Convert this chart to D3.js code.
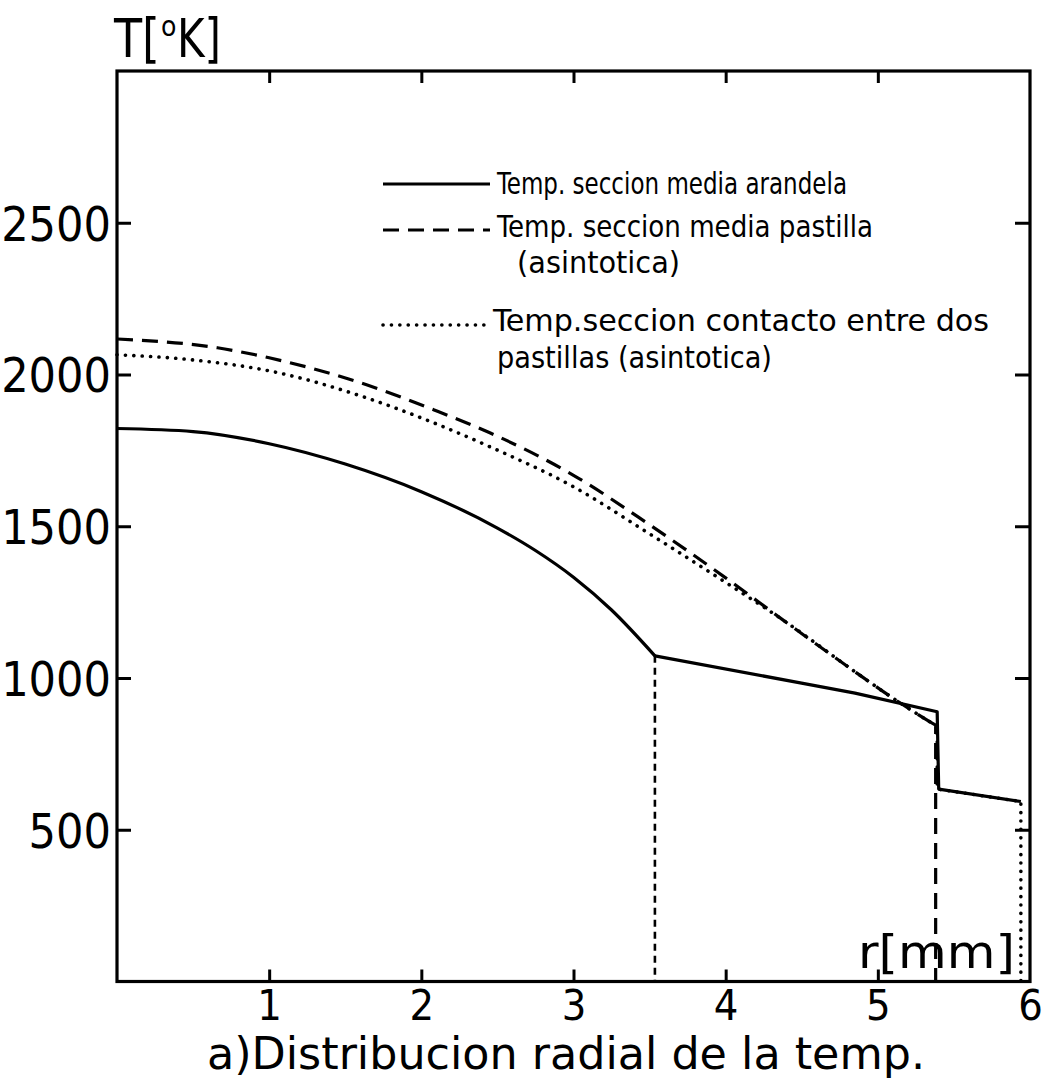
<!DOCTYPE html>
<html>
<head>
<meta charset="utf-8">
<script src="https://cdn.jsdelivr.net/npm/d3@7"></script>
<style>
  html, body { margin: 0; padding: 0; background: #fff; }
  svg { display: block; }
  text { font-family: "Liberation Sans Narrow", "DejaVu Sans Condensed", sans-serif; fill: #000; }
</style>
</head>
<body>
<svg id="chart" width="1051" height="1080"></svg>
<script>
// Radial temperature distribution, r in mm, T in kelvin
const xTicks = [1, 2, 3, 4, 5, 6];
const yTicks = [500, 1000, 1500, 2000, 2500];

// washer mid-section (smooth part, then linear segments and steps)
const arandelaCurve = [[0, 1822], [0.5, 1812], [1, 1772], [1.5, 1705], [2, 1614], [2.5, 1494], [2.75, 1420], [3, 1332], [3.25, 1224], [3.535, 1073]];
const arandelaTail = [[3.535, 1073], [4.49, 984], [4.85, 950], [5.39, 889], [5.40, 634], [5.94, 593]];

// pellet mid-section (asymptotic)
const pastillaCurve = [[0, 2117], [0.66, 2088], [1, 2055], [1.64, 1966], [2.08, 1884], [2.45, 1808], [3, 1668], [3.5, 1505], [4, 1330], [4.38, 1190], [4.86, 1017], [5.08, 940], [5.34, 856]];
const pastillaTail = [[5.34, 856], [5.38, 845], [5.38, 0]];

// contact section between two pellets (asymptotic)
const contactoCurve = [[0, 2065], [0.5, 2048], [1, 2012], [1.64, 1923], [2.08, 1841], [2.45, 1762], [3, 1630], [3.5, 1475], [4, 1315], [4.38, 1190], [4.86, 1017], [5.08, 940], [5.34, 856]];
const contactoTail = [[5.34, 856], [5.39, 845], [5.39, 634], [5.94, 593], [5.94, 0]];

// pellet radius marker
const radioPastilla = [[3.535, 1073], [3.535, 0]];

const svg = d3.select("#chart");
const x = d3.scaleLinear().domain([0, 6]).range([117, 1030]);
const y = d3.scaleLinear().domain([0, 3000]).range([981.5, 71]);

const smooth = d3.line().x(d => x(d[0])).y(d => y(d[1])).curve(d3.curveMonotoneX);
const straight = d3.line().x(d => x(d[0])).y(d => y(d[1]));

const styles = {
  solid: { width: 3.2, dash: null, cap: "butt" },
  dashed: { width: 3.2, dash: "16 9", cap: "butt" },
  dotted: { width: 3.6, dash: "0.1 8.3", cap: "round" }
};

function draw(pathData, st) {
  const p = svg.append("path")
    .attr("d", pathData)
    .attr("fill", "none")
    .attr("stroke", "#000")
    .attr("stroke-width", st.width)
    .attr("stroke-linecap", st.cap)
    .attr("stroke-linejoin", "round");
  if (st.dash) p.attr("stroke-dasharray", st.dash);
  return p;
}

// frame
svg.append("rect")
  .attr("x", x(0)).attr("y", y(3000))
  .attr("width", x(6) - x(0)).attr("height", y(0) - y(3000))
  .attr("fill", "none").attr("stroke", "#000").attr("stroke-width", 3.2);

// axes with inward ticks
const axisLeftG = svg.append("g").attr("transform", `translate(${x(0)},0)`)
  .call(d3.axisLeft(y).tickValues(yTicks).tickSize(-14).tickPadding(6).tickFormat(d3.format("d")));
const axisRightG = svg.append("g").attr("transform", `translate(${x(6)},0)`)
  .call(d3.axisRight(y).tickValues(yTicks).tickSize(-15).tickFormat(""));
const axisBottomG = svg.append("g").attr("transform", `translate(0,${y(0)})`)
  .call(d3.axisBottom(x).tickValues(xTicks).tickSize(-12).tickPadding(8).tickFormat(d3.format("d")));
const axisTopG = svg.append("g").attr("transform", `translate(0,${y(3000)})`)
  .call(d3.axisTop(x).tickValues(xTicks.slice(0, 5)).tickSize(-12).tickFormat(""));

[axisLeftG, axisRightG, axisBottomG, axisTopG].forEach(g => {
  g.select(".domain").remove();
  g.selectAll(".tick line").attr("stroke", "#000").attr("stroke-width", 3);
  g.selectAll(".tick text").style("font-size", "48px").attr("fill", "#000");
});
axisBottomG.selectAll(".tick").filter(d => d === 6).select("line").remove();
axisBottomG.selectAll(".tick text").style("font-size", "43px");
axisLeftG.selectAll(".tick text").attr("dy", "0.36em");

// curves
draw(smooth(arandelaCurve), styles.solid);
draw(straight(arandelaTail), styles.solid);
draw(smooth(pastillaCurve), styles.dashed);
draw(straight(pastillaTail), styles.dashed);
draw(smooth(contactoCurve), styles.dotted);
draw(straight(contactoTail), styles.dotted);
draw(straight(radioPastilla), { width: 2.6, dash: "7 5", cap: "butt" });

// legend
const legend = [
  { st: styles.solid, ly: 184, lines: [{ t: "Temp. seccion media arandela", x: 497, y: 194, w: 350 }] },
  { st: styles.dashed, ly: 230, lines: [{ t: "Temp. seccion media pastilla", x: 497, y: 237, w: 376 }, { t: "(asintotica)", x: 517, y: 273, w: 163 }] },
  { st: styles.dotted, ly: 325, lines: [{ t: "Temp.seccion contacto  entre dos", x: 493, y: 331, w: 496 }, { t: "pastillas (asintotica)", x: 497, y: 368, w: 275 }] }
];
legend.forEach(item => {
  draw(`M383,${item.ly}H490`, item.st);
  item.lines.forEach(l => {
    svg.append("text").attr("x", l.x).attr("y", l.y)
      .attr("textLength", l.w).attr("lengthAdjust", "spacingAndGlyphs")
      .style("font-size", "30px").text(l.t);
  });
});

// axis titles: T[ºK] with a raised small o
svg.append("text").attr("x", 114).attr("y", 57)
  .attr("textLength", 46).attr("lengthAdjust", "spacingAndGlyphs")
  .style("font-size", "54px").text("T[");
svg.append("text").attr("x", 161).attr("y", 36)
  .style("font-size", "28px").text("o");
svg.append("text").attr("x", 177).attr("y", 57)
  .attr("textLength", 44).attr("lengthAdjust", "spacingAndGlyphs")
  .style("font-size", "54px").text("K]");

svg.append("text").attr("x", 858).attr("y", 968)
  .attr("textLength", 157).attr("lengthAdjust", "spacingAndGlyphs")
  .style("font-size", "47px").text("r[mm]");

// caption
svg.append("text").attr("x", 207).attr("y", 1069)
  .attr("textLength", 718).attr("lengthAdjust", "spacingAndGlyphs")
  .style("font-size", "44px").text("a)Distribucion radial de la temp.");
</script>
</body>
</html>
